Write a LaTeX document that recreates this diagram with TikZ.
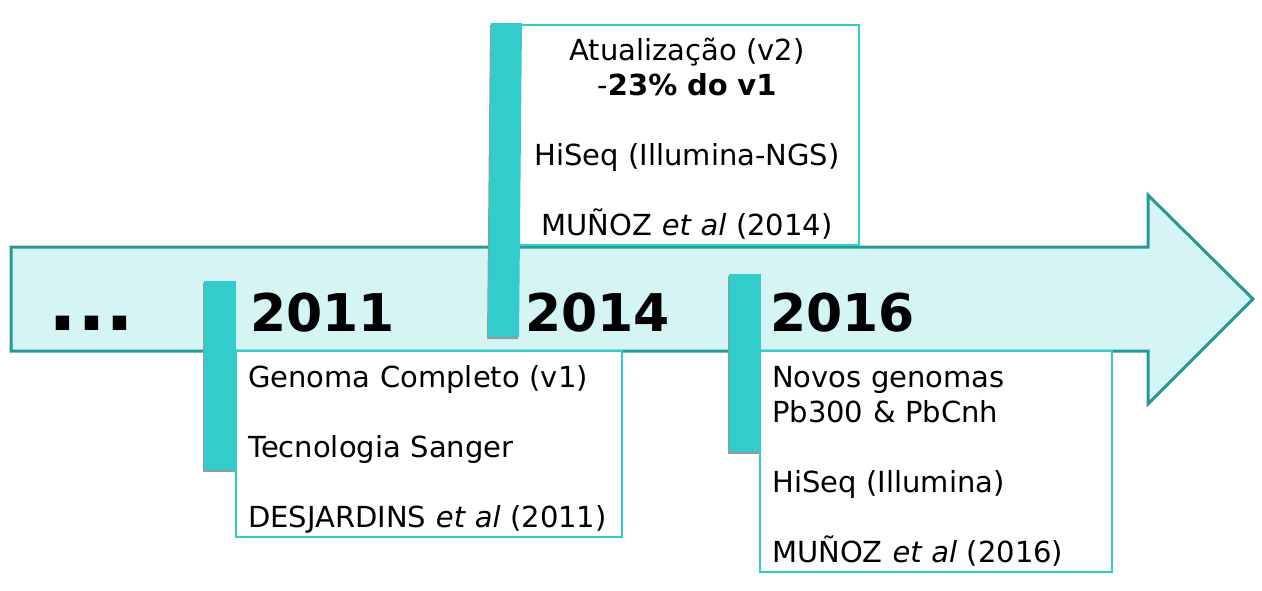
\documentclass[tikz,border=0pt]{standalone}
\usepackage{fontspec}
\setmainfont{DejaVu Sans}

\definecolor{setaborda}{RGB}{38,153,149}
\definecolor{setafundo}{RGB}{213,245,245}
\definecolor{marca}{RGB}{51,204,204}

\tikzset{
    caixa/.style={draw=marca, line width=2.8pt, fill=white},
    marco/.style={fill=marca},
    sombra/.style={fill=black!40},
    texto/.style={anchor=base west, align=left, text width=#1, inner sep=0pt,
        font=\fontsize{29}{35}\selectfont},
    ano/.style={anchor=base west, inner sep=0pt, font=\fontsize{52}{60}\selectfont\bfseries},
}

\begin{document}
\begin{tikzpicture}[x=1pt, y=-1pt]
    \useasboundingbox (0, 0) rectangle (1262, 590);

    % seta da linha do tempo
    \draw[setaborda, fill=setafundo, line width=3pt, line join=miter]
        (11, 247) -- (1148, 247) -- (1148, 195) -- (1253, 299)
        -- (1148, 404) -- (1148, 351) -- (11, 351) -- cycle;

    \node[anchor=base west, inner sep=0pt, font=\fontsize{76}{80}\selectfont\bfseries]
        (antes) at (48, 330) {...};

    % 2011
    \fill[sombra] (203, 283) rectangle (235, 472);
    \fill[marco] (204, 281) rectangle (236, 470);
    \node[ano] (a2011) at (250, 331) {2011};
    \draw[caixa] (236, 351) rectangle (622, 537);
    \node[texto=370pt] (t2011) at (248, 387)
        {Genoma Completo (v1)\\[35pt]Tecnologia Sanger\\[35pt]DESJARDINS \textit{et al} (2011)};

    % 2014
    \draw[caixa] (519, 25) rectangle (859, 245);
    \fill[sombra] (490, 25) -- (521, 25) -- (518, 339) -- (487, 339) -- cycle;
    \fill[marco] (491, 23) -- (522, 23) -- (519, 337) -- (488, 337) -- cycle;
    \node[ano] (a2014) at (525, 331) {2014};
    \node[anchor=base, align=center, text width=340pt, inner sep=0pt,
        font=\fontsize{29}{35}\selectfont] (t2014) at (687, 60)
        {Atualização (v2)\\-\textbf{23\% do v1}\\[35pt]HiSeq (Illumina-NGS)\\[35pt]MUÑOZ \textit{et al} (2014)};

    % 2016
    \fill[sombra] (728, 276) rectangle (760, 454);
    \fill[marco] (729, 274) rectangle (761, 452);
    \node[ano] (a2016) at (770, 331) {2016};
    \draw[caixa] (760, 351) rectangle (1112, 572);
    \node[texto=340pt] (t2016) at (772, 387)
        {Novos genomas\\Pb300 \& PbCnh\\[35pt]HiSeq (Illumina)\\[35pt]MUÑOZ \textit{et al} (2016)};
\end{tikzpicture}
\end{document}
